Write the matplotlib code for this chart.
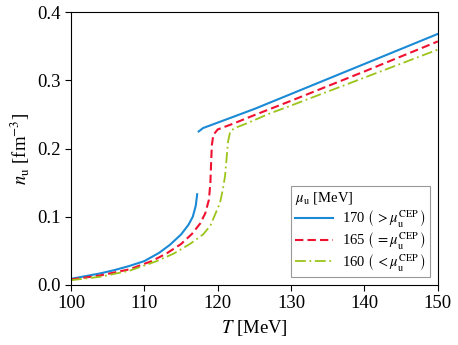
import matplotlib
matplotlib.use("Agg")
import matplotlib.pyplot as plt

plt.rcParams["font.family"] = ["Liberation Serif", "DejaVu Serif"]
plt.rcParams["mathtext.fontset"] = "stix"
plt.rcParams["font.size"] = 13.5

# mu_u = 170 MeV (first-order transition, two branches)
T_170_low = [100, 102, 104, 106, 108, 110, 112, 113.5, 115, 116, 116.6, 117.0, 117.2]
n_170_low = [0.009, 0.013, 0.017, 0.022, 0.028, 0.035, 0.047, 0.059, 0.074, 0.088,
             0.100, 0.116, 0.133]
T_170_high = [117.4, 118, 119, 120, 122, 125, 130, 135, 140, 145, 150]
n_170_high = [0.225, 0.230, 0.234, 0.238, 0.246, 0.258, 0.280, 0.302, 0.324, 0.346, 0.368]

# mu_u = 165 MeV (CEP)
T_165 = [100, 104, 108, 111, 113, 115, 116.5, 117.6, 118.3, 118.8, 119.0, 119.1,
         119.2, 119.4, 120, 122, 125, 130, 140, 150]
n_165 = [0.008, 0.014, 0.023, 0.035, 0.046, 0.060, 0.075, 0.090, 0.105, 0.125,
         0.150, 0.180, 0.205, 0.220, 0.228, 0.236, 0.249, 0.270, 0.313, 0.357]

# mu_u = 160 MeV (crossover)
T_160 = [100, 104, 108, 111.7, 114, 116.2, 118, 119, 120.3, 120.7, 121, 121.2,
         121.4, 121.7, 122.3, 124, 127, 130, 140, 150]
n_160 = [0.007, 0.012, 0.021, 0.035, 0.046, 0.060, 0.074, 0.087, 0.120, 0.140,
         0.160, 0.185, 0.210, 0.225, 0.230, 0.237, 0.251, 0.263, 0.304, 0.345]

fig = plt.figure(figsize=(4.58, 3.45), dpi=100)
ax = fig.add_axes([0.155, 0.174, 0.801, 0.791])

c_blue = "#1a8ad6"
c_red = "#f0102f"
c_green = "#9cc41a"

ax.plot(T_170_low, n_170_low, color=c_blue, lw=1.5,
        label=r"170 $\left(\,>\mu_\mathrm{u}^\mathrm{CEP}\,\right)$")
ax.plot(T_170_high, n_170_high, color=c_blue, lw=1.5)
ax.plot(T_165, n_165, color=c_red, lw=1.5, ls=(0, (4, 2)),
        label=r"165 $\left(\,=\mu_\mathrm{u}^\mathrm{CEP}\,\right)$")
ax.plot(T_160, n_160, color=c_green, lw=1.3, ls=(0, (6, 2, 1, 2)),
        label=r"160 $\left(\,<\mu_\mathrm{u}^\mathrm{CEP}\,\right)$")

ax.set_xlim(100, 150)
ax.set_ylim(0, 0.4)
ax.set_xticks([100, 110, 120, 130, 140, 150])
ax.set_yticks([0.0, 0.1, 0.2, 0.3, 0.4])
ax.tick_params(direction="out", length=4, width=0.8, top=False, right=False)
ax.set_xlabel(r"$T$ [MeV]")
ax.set_ylabel(r"$n_\mathrm{u}$ [fm$^{-3}$]")

leg = ax.legend(title=r"$\mu_\mathrm{u}$ [MeV]", loc="lower right", fontsize=10.5,
                title_fontsize=10.5, fancybox=False, edgecolor="0.5",
                handlelength=2.6, handletextpad=0.6, borderaxespad=0.55,
                labelspacing=0.05, borderpad=0.3)
leg._legend_box.align = "left"
leg.get_frame().set_linewidth(0.8)

plt.savefig("out.png", dpi=100)
plt.close()
